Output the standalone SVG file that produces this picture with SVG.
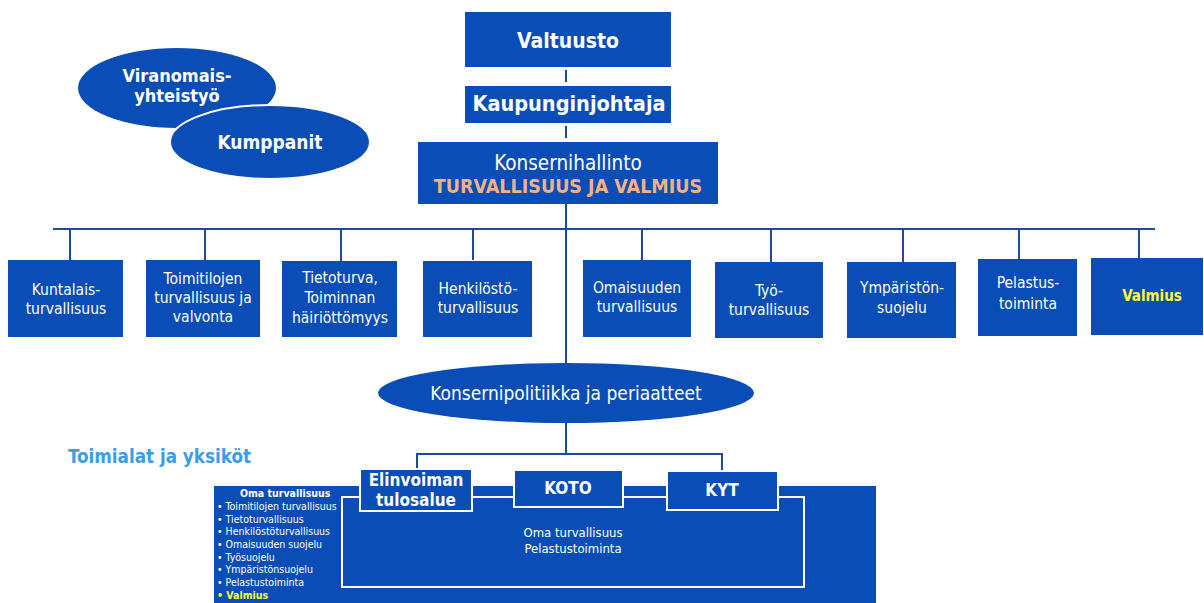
<svg xmlns="http://www.w3.org/2000/svg" width="1204" height="603" viewBox="0 0 1204 603">
<style>
.box{fill:#0B4DB7}
.wb{fill:#0B4DB7;stroke:#fff;stroke-width:2}
.t{font-family:"DejaVu Sans Condensed","DejaVu Sans",sans-serif;fill:#fff;text-anchor:middle}
.r{font-size:15.5px}
.b{font-weight:bold}
.ln{stroke:#1C4A9C;stroke-width:2;fill:none}
.s{font-family:"DejaVu Sans Condensed","DejaVu Sans",sans-serif;fill:#fff;font-size:10.5px}
</style>
<rect width="1204" height="603" fill="#fff"/>
<g id="connectors">
<line class="ln" x1="566" y1="70" x2="566" y2="82" stroke-width="3"/>
<line class="ln" x1="566" y1="126" x2="566" y2="138" stroke-width="3"/>
<line class="ln" x1="566" y1="204" x2="566" y2="364"/>
<line class="ln" x1="53" y1="229" x2="1155" y2="229"/>
<line class="ln" x1="70" y1="229" x2="70" y2="260"/>
<line class="ln" x1="205" y1="229" x2="205" y2="260"/>
<line class="ln" x1="341" y1="229" x2="341" y2="261"/>
<line class="ln" x1="473" y1="229" x2="473" y2="260"/>
<line class="ln" x1="642" y1="229" x2="642" y2="260"/>
<line class="ln" x1="771" y1="229" x2="771" y2="262"/>
<line class="ln" x1="903" y1="229" x2="903" y2="262"/>
<line class="ln" x1="1019" y1="229" x2="1019" y2="259"/>
<line class="ln" x1="1139" y1="229" x2="1139" y2="258"/>
<line class="ln" x1="566" y1="423" x2="566" y2="454"/>
<path class="ln" d="M417 469 V454 H722 V471"/>
</g>
<g id="viranomais"><ellipse cx="177" cy="88" rx="99" ry="40" class="box"/>
<text class="t b" x="177" y="82" style="font-size:18px">Viranomais-</text><text class="t b" x="177" y="102" style="font-size:18px">yhteistyö</text></g>
<g id="kumppanit"><ellipse cx="270" cy="142" rx="100" ry="37" class="wb"/>
<text class="t b" x="270" y="149" style="font-size:19px">Kumppanit</text></g>
<g id="valtuusto"><rect x="465" y="12" width="206" height="55" class="box"/>
<text class="t b" x="568" y="48" style="font-size:21px">Valtuusto</text></g>
<g id="kaupunginjohtaja"><rect x="465" y="86" width="206" height="37" class="box"/>
<text class="t b" x="569" y="111" style="font-size:21.5px">Kaupunginjohtaja</text></g>
<g id="konsernihallinto"><rect x="418" y="142" width="300" height="62" class="box"/>
<text class="t" x="568" y="170" style="font-size:20.5px">Konsernihallinto</text>
<text class="t b" x="568" y="193" style="font-size:19.5px;fill:#F4B183">TURVALLISUUS JA VALMIUS</text></g>
<g id="kuntalais"><rect x="8" y="260" width="115" height="77" class="box"/>
<text class="t r" x="66" y="295">Kuntalais-</text><text class="t r" x="66" y="314">turvallisuus</text></g>
<g id="toimitilojen"><rect x="146" y="260" width="114" height="77" class="box"/>
<text class="t r" x="203" y="284">Toimitilojen</text><text class="t r" x="203" y="303">turvallisuus ja</text><text class="t r" x="203" y="322">valvonta</text></g>
<g id="tietoturva"><rect x="282" y="261" width="115" height="76" class="box"/>
<text class="t r" x="340" y="283">Tietoturva,</text><text class="t r" x="340" y="303">Toiminnan</text><text class="t r" x="340" y="323">häiriöttömyys</text></g>
<g id="henkilosto"><rect x="423" y="261" width="109" height="76" class="box"/>
<text class="t r" x="478" y="294">Henkilöstö-</text><text class="t r" x="478" y="313">turvallisuus</text></g>
<g id="omaisuuden"><rect x="583" y="260" width="108" height="77" class="box"/>
<text class="t r" x="637" y="293">Omaisuuden</text><text class="t r" x="637" y="312">turvallisuus</text></g>
<g id="tyo"><rect x="715" y="262" width="108" height="76" class="box"/>
<text class="t r" x="769" y="296">Työ-</text><text class="t r" x="769" y="315">turvallisuus</text></g>
<g id="ymparisto"><rect x="847" y="262" width="109" height="76" class="box"/>
<text class="t r" x="902" y="293">Ympäristön-</text><text class="t r" x="902" y="313">suojelu</text></g>
<g id="pelastus"><rect x="978" y="259" width="99" height="77" class="box"/>
<text class="t r" x="1028" y="288">Pelastus-</text><text class="t r" x="1028" y="309">toiminta</text></g>
<g id="valmius"><rect x="1091" y="258" width="112" height="77" class="box"/>
<text class="t b" x="1152" y="301" style="font-size:15px;fill:#FFFF33">Valmius</text></g>
<g id="konsernipolitiikka"><ellipse cx="566" cy="393" rx="188" ry="30" class="box"/>
<text class="t" x="566" y="400" style="font-size:19px">Konsernipolitiikka ja periaatteet</text></g>
<g id="toimialat-label"><text x="68" y="463" font-family="DejaVu Sans Condensed, DejaVu Sans, sans-serif" font-weight="bold" font-size="18.7" fill="#3A9DEB">Toimialat ja yksiköt</text></g>
<g id="toimialat"><rect x="214" y="486" width="662" height="117" class="box"/>
<text class="s b" x="240" y="497">Oma turvallisuus</text>
<text class="s" x="217" y="510">• Toimitilojen turvallisuus</text>
<text class="s" x="217" y="523">• Tietoturvallisuus</text>
<text class="s" x="217" y="535">• Henkilöstöturvallisuus</text>
<text class="s" x="217" y="548">• Omaisuuden suojelu</text>
<text class="s" x="217" y="561">• Työsuojelu</text>
<text class="s" x="217" y="573">• Ympäristönsuojelu</text>
<text class="s" x="217" y="586">• Pelastustoiminta</text>
<text class="s b" x="217" y="599" style="fill:#FFFF33">• Valmius</text>
<rect x="342" y="497" width="462" height="90" class="wb"/>
<rect x="338" y="486" width="22" height="10" fill="#0B4DB7"/>
<text class="t" x="573" y="537" style="font-size:13px">Oma turvallisuus</text>
<text class="t" x="573" y="553" style="font-size:13px">Pelastustoiminta</text></g>
<g id="elinvoiman"><rect x="360" y="469" width="112" height="42" class="wb"/>
<text class="t b" x="416" y="486" style="font-size:17px">Elinvoiman</text><text class="t b" x="416" y="506" style="font-size:17px">tulosalue</text></g>
<g id="koto"><rect x="514" y="470" width="109" height="37" class="wb"/>
<text class="t b" x="568" y="494" style="font-size:17px">KOTO</text></g>
<g id="kyt"><rect x="667" y="471" width="111" height="39" class="wb"/>
<text class="t b" x="722" y="496" style="font-size:17px">KYT</text></g>
</svg>
